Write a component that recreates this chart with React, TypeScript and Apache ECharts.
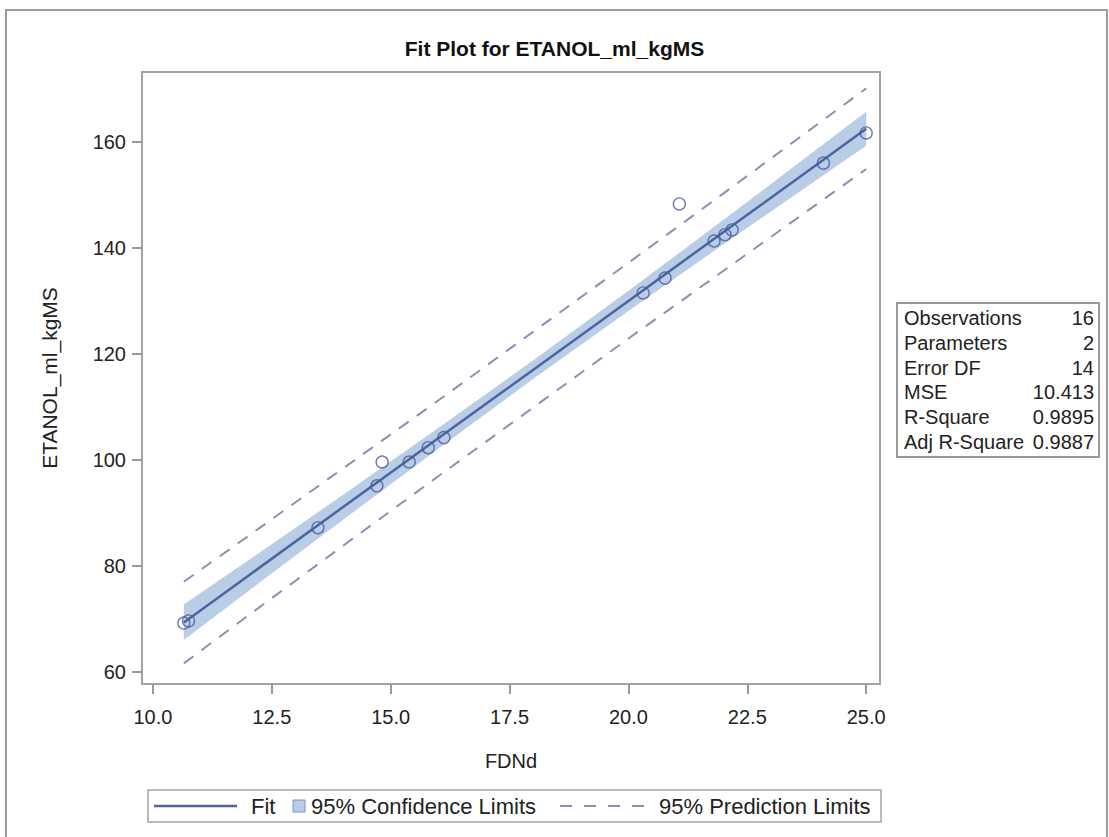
import React, { useEffect, useRef } from "react";
import * as echarts from "echarts";

const TITLE = "Fit Plot for ETANOL_ml_kgMS";
const X_NAME = "FDNd";
const Y_NAME = "ETANOL_ml_kgMS";

// Observations
const obsX = [10.65, 10.75, 13.47, 14.71, 14.82, 15.39, 15.79, 16.12, 20.31, 20.77, 21.07, 21.8, 22.03, 22.18, 24.1, 25.0];
const obsY = [69.2, 69.6, 87.2, 95.1, 99.6, 99.6, 102.3, 104.2, 131.5, 134.3, 148.3, 141.3, 142.5, 143.4, 156.0, 161.7];

// Fit line and limits (at these FDNd positions)
const bandX = [10.65, 12, 14, 16, 18, 20, 22, 24, 25];
const fitY = [69.3, 78.1, 91.1, 104.1, 117.0, 130.0, 143.0, 156.0, 162.5];
const clLower = [66.0, 75.2, 88.7, 102.1, 115.3, 128.1, 140.7, 153.1, 159.3];
const clUpper = [72.7, 81.0, 93.4, 106.0, 118.8, 131.9, 145.3, 158.9, 165.7];
const plLower = [61.6, 70.6, 83.8, 96.9, 109.9, 122.9, 135.7, 148.5, 154.9];
const plUpper = [77.0, 85.6, 98.4, 111.2, 124.2, 137.2, 150.3, 163.5, 170.1];

const xTicks = [10, 12.5, 15, 17.5, 20, 22.5, 25];
const yTicks = [60, 80, 100, 120, 140, 160];

const statLabels = ["Observations", "Parameters", "Error DF", "MSE", "R-Square", "Adj R-Square"];
const statValues = ["16", "2", "14", "10.413", "0.9895", "0.9887"];

const legendNames = ["Fit", "95% Confidence Limits", "95% Prediction Limits"];

const FONT = "'Liberation Sans', Arial, Helvetica, sans-serif";
const FIT_COLOR = "#4b64a0";
const BAND_COLOR = "#b9cde7";
const PRED_COLOR = "#8b8fb4";
const MARK_COLOR = "#4a5a9f";
const FRAME = "#a3a3a3";
const TEXT = "#222";

export default function App() {
  const ref = useRef<HTMLDivElement>(null);

  useEffect(() => {
    if (!ref.current) return;
    const chart = echarts.init(ref.current, undefined, { renderer: "svg" });

    const grid = { left: 142, top: 72, width: 738, height: 612 };

    const statRows: any[] = [];
    const rowTop = 318;
    const rowStep = 24.8;
    statLabels.forEach((lab, i) => {
      statRows.push({
        type: "text",
        x: 904,
        y: rowTop + i * rowStep,
        style: { text: lab, font: `20px ${FONT}`, fill: TEXT, verticalAlign: "middle" },
      });
      statRows.push({
        type: "text",
        x: 1094,
        y: rowTop + i * rowStep,
        style: { text: statValues[i], font: `20px ${FONT}`, fill: TEXT, align: "right", verticalAlign: "middle" },
      });
    });

    const ly = 806;
    const LF = `22px ${FONT}`;
    const legendEls: any[] = [
      { type: "rect", shape: { x: 148, y: 790, width: 733, height: 32 }, style: { fill: "#fff", stroke: FRAME, lineWidth: 1.5 } },
      { type: "line", shape: { x1: 154, y1: ly, x2: 237, y2: ly }, style: { stroke: FIT_COLOR, lineWidth: 2.5 } },
      { type: "text", x: 251, y: ly, style: { text: legendNames[0], font: LF, fill: TEXT, verticalAlign: "middle" } },
      { type: "rect", shape: { x: 293, y: ly - 6, width: 12, height: 12 }, style: { fill: BAND_COLOR, stroke: "#7d92c0", lineWidth: 1 } },
      { type: "text", x: 311, y: ly, style: { text: legendNames[1], font: LF, fill: TEXT, verticalAlign: "middle" } },
      { type: "line", shape: { x1: 560, y1: ly, x2: 644, y2: ly }, style: { stroke: PRED_COLOR, lineWidth: 2, lineDash: [12, 12] } },
      { type: "text", x: 659, y: ly, style: { text: legendNames[2], font: LF, fill: TEXT, verticalAlign: "middle" } },
    ];

    const option: any = {
      animation: false,
      backgroundColor: "#fff",
      title: {
        text: TITLE,
        left: "center",
        top: 33,
        textStyle: { fontFamily: FONT, fontSize: 21, fontWeight: "bold", color: "#111" },
      },
      grid: { ...grid, show: true, borderColor: FRAME, borderWidth: 2, backgroundColor: "#fff" },
      xAxis: {
        type: "value",
        min: 9.77,
        max: 25.29,
        name: X_NAME,
        nameLocation: "middle",
        nameGap: 67,
        nameTextStyle: { fontFamily: FONT, fontSize: 20, color: TEXT },
        axisLine: { show: false },
        axisTick: { show: true, length: 10, customValues: xTicks, lineStyle: { color: "#999", width: 2 } },
        axisLabel: {
          customValues: xTicks,
          formatter: (v: number) => v.toFixed(1),
          fontFamily: FONT,
          fontSize: 20,
          color: TEXT,
          margin: 23,
        },
        splitLine: { show: false },
      },
      yAxis: {
        type: "value",
        min: 57.7,
        max: 173.2,
        name: Y_NAME,
        nameLocation: "middle",
        nameGap: 82,
        nameRotate: 90,
        nameTextStyle: { fontFamily: FONT, fontSize: 21, color: TEXT },
        axisLine: { show: false },
        axisTick: { show: true, length: 10, customValues: yTicks, lineStyle: { color: "#999", width: 2 } },
        axisLabel: {
          customValues: yTicks,
          fontFamily: FONT,
          fontSize: 20,
          color: TEXT,
          margin: 16,
        },
        splitLine: { show: false },
      },
      series: [
        {
          name: legendNames[1],
          type: "custom",
          z: 1,
          data: bandX.map((x, i) => [x, clLower[i], clUpper[i]]),
          encode: { x: 0, y: [1, 2] },
          renderItem: (params: any, api: any) => {
            if (params.dataIndex !== 0) return null;
            const up = bandX.map((x, i) => api.coord([x, clUpper[i]]));
            const lo = bandX.map((x, i) => api.coord([x, clLower[i]])).reverse();
            return {
              type: "polygon",
              shape: { points: up.concat(lo) },
              style: { fill: BAND_COLOR, stroke: "none" },
            };
          },
        },
        {
          name: legendNames[0],
          type: "line",
          z: 3,
          symbol: "none",
          data: bandX.map((x, i) => [x, fitY[i]]),
          lineStyle: { color: FIT_COLOR, width: 2.5 },
        },
        {
          name: legendNames[2],
          type: "line",
          z: 2,
          symbol: "none",
          data: bandX.map((x, i) => [x, plUpper[i]]),
          lineStyle: { color: PRED_COLOR, width: 2, type: [12, 10] },
        },
        {
          name: legendNames[2],
          type: "line",
          z: 2,
          symbol: "none",
          data: bandX.map((x, i) => [x, plLower[i]]),
          lineStyle: { color: PRED_COLOR, width: 2, type: [12, 10] },
        },
        {
          name: "Observations",
          type: "scatter",
          z: 4,
          symbol: "circle",
          symbolSize: 12,
          data: obsX.map((x, i) => [x, obsY[i]]),
          itemStyle: { color: "rgba(255,255,255,0)", borderColor: MARK_COLOR, borderWidth: 1.4 },
        },
      ],
      graphic: [
        { type: "rect", shape: { x: 6, y: 10, width: 1101, height: 840 }, style: { fill: "none", stroke: "#9c9c9c", lineWidth: 2 }, z: -10 },
        { type: "rect", shape: { x: 897, y: 303, width: 202, height: 154 }, style: { fill: "#fff", stroke: "#999", lineWidth: 2 } },
        ...statRows,
        ...legendEls,
      ],
    };

    chart.setOption(option);
    return () => chart.dispose();
  }, []);

  return (
    <div
      ref={ref}
      style={{ position: "absolute", left: 0, top: 0, width: 1109, height: 837, background: "#fff" }}
    />
  );
}
